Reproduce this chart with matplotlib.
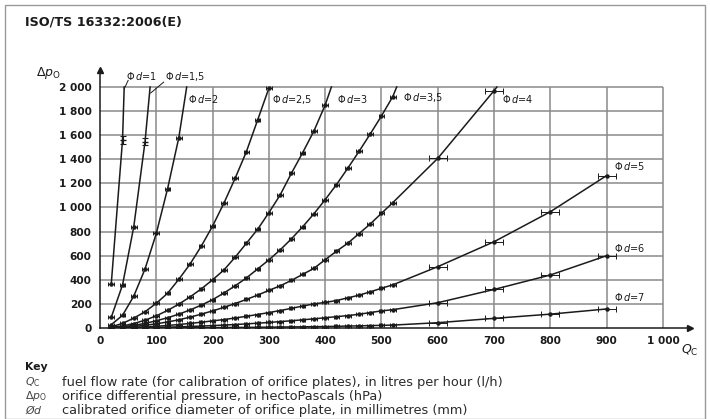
import matplotlib as mpl
mpl.use("Agg")
import matplotlib.pyplot as plt
from matplotlib.patches import Rectangle

mpl.rcParams.update({"font.family": "DejaVu Sans", "mathtext.fontset": "dejavusans"})

# orifice diameters (mm) and their labels
diam_labels = ["1", "1,5", "2", "2,5", "3", "3,5", "4", "5", "6", "7"]

# fuel flow Q (l/h) of the measured points
q_dense = [20, 40, 60, 80, 100, 120, 140, 160, 180, 200, 220, 240, 260,
           280, 300, 320, 340, 360, 380, 400, 420, 440, 460, 480, 500, 520]
q_sparse = [600, 700, 800, 900]

# differential pressure (hPa) read for each orifice
p_d1 = [365, 1560]
p_d15 = [89, 357, 841, 1546]
p_d2 = [28, 105, 265, 490, 785, 1155, 1580]
p_d25 = [10, 38, 82, 135, 205, 288, 404, 531, 680, 846, 1035, 1242, 1463,
         1726, 1990]
p_d3 = [5, 17, 37, 65, 101, 146, 198, 258, 325, 400, 481, 587, 703, 819,
        957, 1104, 1284, 1455, 1635, 1851]
p_d35 = [3, 10, 22, 38, 60, 85, 115, 150, 190, 235, 290, 350, 415, 490, 565,
         648, 740, 840, 948, 1065, 1190, 1325, 1465, 1610, 1760, 1920]
p_d4 = [2, 6, 13, 22, 35, 50, 68, 90, 115, 142, 171, 203, 237, 273, 312,
        350, 395, 445, 495, 567, 637, 703, 783, 863, 952, 1040, 1408, 1970]
p_d5 = [1, 2, 5, 9, 14, 21, 29, 38, 48, 59, 70, 83, 97, 112, 128, 145, 163,
        182, 200, 212, 228, 250, 272, 300, 330, 358, 509, 716, 965, 1265]
p_d6 = [0, 1, 2, 3, 5, 7, 10, 13, 16, 20, 24, 29, 34, 40, 46, 53, 60, 68,
        76, 85, 94, 103, 114, 128, 142, 152, 210, 320, 440, 600]
p_d7 = [0, 0, 0, 1, 1, 1, 2, 2, 3, 3, 4, 5, 5, 6, 7, 8, 9, 10, 11, 12, 14,
        16, 18, 20, 22, 24, 44, 80, 115, 158]
p_all = [p_d1, p_d15, p_d2, p_d25, p_d3, p_d35, p_d4, p_d5, p_d6, p_d7]

# where a curve leaves the chart at the 2 000 hPa line (None: ends at last point)
q_top = [43, 89, 154, None, 411, 527, 705, None, None, None]

# label anchors (Q, Δp)
lab_q = [46, 115, 156, 305, 421, 538, 714, 913, 913, 913]
lab_p = [2090, 2090, 1900, 1900, 1900, 1915, 1900, 1344, 664, 257]

INK = "#1b1b1b"
GRID = "#8a8a8a"

fig = plt.figure(figsize=(7.10, 4.19), dpi=100)
fig.patches.append(Rectangle((5 / 710, 0.0), 700 / 710, 414 / 419, transform=fig.transFigure,
                             fill=False, ec="#9a9a9a", lw=1.0))
ax = fig.add_axes([100 / 710, 91 / 419, 590 / 710, 258 / 419])
ax.set_xlim(0, 1048)
ax.set_ylim(0, 2141)

xt = list(range(0, 1001, 100))
yt = list(range(0, 2001, 200))
ax.vlines(xt[1:], 0, 2000, color=GRID, lw=1.1, zorder=1)
ax.hlines(yt[1:], 0, 1000, color=GRID, lw=1.1, zorder=1)

for spine in ["top", "right"]:
    ax.spines[spine].set_visible(False)
for spine in ["left", "bottom"]:
    ax.spines[spine].set_color(INK)
    ax.spines[spine].set_linewidth(1.1)
ax.plot(1, 0, ">", color=INK, ms=5, transform=ax.get_yaxis_transform(), clip_on=False)
ax.plot(0, 1, "^", color=INK, ms=5, transform=ax.get_xaxis_transform(), clip_on=False)

ax.set_xticks(xt)
ax.set_xticklabels([f"{v:,}".replace(",", " ") for v in xt])
ax.set_yticks(yt)
ax.set_yticklabels([f"{v:,}".replace(",", " ") for v in yt])
ax.tick_params(length=0, pad=6, labelsize=7.6, colors=INK)
for t in ax.get_xticklabels() + ax.get_yticklabels():
    t.set_fontweight("bold")

for i, p in enumerate(p_all):
    if len(p) <= len(q_dense):
        q = q_dense[:len(p)]
    else:
        q = q_dense + q_sparse[:len(p) - len(q_dense)]
    lq, lp = list(q), list(p)
    if q_top[i] is not None:
        lq.append(q_top[i])
        lp.append(2000)
    ax.plot(lq, lp, color=INK, lw=1.1, zorder=3)
    nd = min(len(p), len(q_dense))
    if i < 2:
        ax.errorbar(q[:-1], p[:-1], xerr=5, fmt="o", ms=2.2, color=INK,
                    elinewidth=0.7, capsize=1.5, capthick=0.7, zorder=4)
        ax.errorbar(q[-1:], p[-1:], yerr=30, fmt="_", ms=4, color=INK,
                    elinewidth=0.8, capsize=2.5, capthick=0.8, zorder=4)
    else:
        ax.errorbar(q[:nd], p[:nd], xerr=5, fmt="o", ms=2.2, color=INK,
                    elinewidth=0.7, capsize=1.5, capthick=0.7, zorder=4)
        if len(p) > nd:
            ax.errorbar(q[nd:], p[nd:], xerr=16, fmt="o", ms=2.2, color=INK,
                        elinewidth=0.7, capsize=2, capthick=0.7, zorder=4)
    ax.text(lab_q[i], lab_p[i], r"$\Phi\,d$=" + diam_labels[i], fontsize=7,
            color=INK, ha="left", va="center", zorder=5)

# leader lines for the two steep curves
ax.plot([43, 50], [1985, 2055], color=INK, lw=0.7, clip_on=False)
ax.plot([90, 113], [1950, 2040], color=INK, lw=0.7, clip_on=False)

fig.text(25 / 710, 1 - 22 / 419, "ISO/TS 16332:2006(E)", fontsize=9.2,
         fontweight="bold", color=INK, va="center")
fig.text(36 / 710, 1 - 73 / 419, r"$\Delta p_{\mathrm{O}}$", fontsize=9, color=INK, va="center")
fig.text(681 / 710, 1 - 350 / 419, r"$Q_{\mathrm{C}}$", fontsize=9, color=INK, va="center")

fig.text(25 / 710, 1 - 367 / 419, "Key", fontsize=7.8, fontweight="bold", color=INK, va="center")
key_sym = [r"$Q_{\mathrm{C}}$", r"$\Delta p_{\mathrm{O}}$", r"$\O d$"]
key_txt = ["fuel flow rate (for calibration of orifice plates), in litres per hour (l/h)",
           "orifice differential pressure, in hectoPascals (hPa)",
           "calibrated orifice diameter of orifice plate, in millimetres (mm)"]
key_y = [382, 396, 410]
for s, t, y in zip(key_sym, key_txt, key_y):
    fig.text(25 / 710, 1 - y / 419, s, fontsize=7.8, color="#444444", va="center")
    fig.text(62 / 710, 1 - y / 419, t, fontsize=9.3, color="#2a2a2a", va="center")

fig.savefig("out.png", dpi=100)
